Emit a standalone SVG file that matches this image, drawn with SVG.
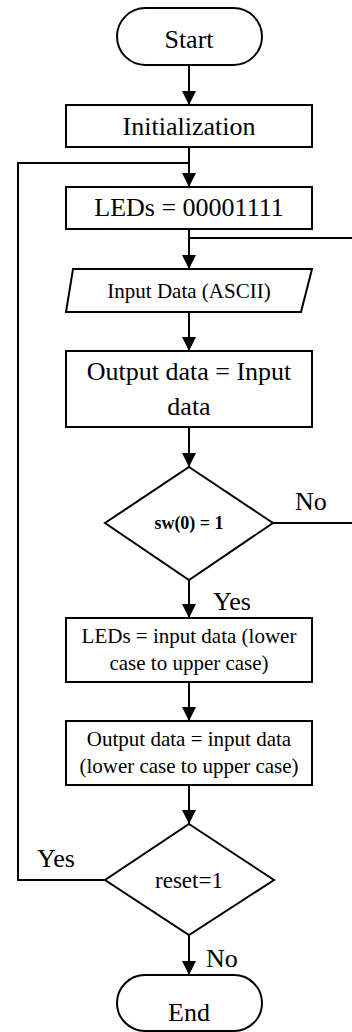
<svg xmlns="http://www.w3.org/2000/svg" width="352" height="1032" viewBox="0 0 352 1032">
<defs>
<style>
.shape{fill:#fff;stroke:#000;stroke-width:2}
.conn{fill:none;stroke:#000;stroke-width:2}
text{font-family:"Liberation Serif","Times New Roman",serif;fill:#000}
.c{text-anchor:middle}
.big{font-size:26px}
.mid{font-size:21px}
</style>
<marker id="arr" markerUnits="userSpaceOnUse" markerWidth="16" markerHeight="16" viewBox="0 0 16 16" refX="15" refY="8" orient="auto">
<path d="M1,1 L15,8 L1,15 Z" fill="#000"/>
</marker>
</defs>
<rect width="352" height="1032" fill="#fff"/>
<g id="connectors">
<line class="conn" x1="189" y1="65" x2="189" y2="105" marker-end="url(#arr)"/>
<line class="conn" x1="189" y1="147" x2="189" y2="187" marker-end="url(#arr)"/>
<polyline class="conn" points="105,880 18,880 18,163 189,163"/>
<line class="conn" x1="189" y1="229" x2="189" y2="269" marker-end="url(#arr)"/>
<polyline class="conn" points="273,523 354,523 354,238 189,238"/>
<line class="conn" x1="189" y1="312" x2="189" y2="351" marker-end="url(#arr)"/>
<line class="conn" x1="189" y1="427" x2="189" y2="467" marker-end="url(#arr)"/>
<line class="conn" x1="189" y1="580" x2="189" y2="618" marker-end="url(#arr)"/>
<line class="conn" x1="189" y1="682" x2="189" y2="721" marker-end="url(#arr)"/>
<line class="conn" x1="189" y1="785" x2="189" y2="824" marker-end="url(#arr)"/>
<line class="conn" x1="189" y1="935" x2="189" y2="975" marker-end="url(#arr)"/>
<text class="big" x="295" y="510">No</text>
<text class="big" x="213" y="610">Yes</text>
<text class="big" x="37" y="867">Yes</text>
<text class="big" x="206" y="967">No</text>
</g>
<g id="start">
<rect class="shape" x="117" y="8" width="145" height="57" rx="28.5"/>
<text class="c big" x="189" y="48">Start</text>
</g>
<g id="init">
<rect class="shape" x="66" y="105" width="246" height="42"/>
<text class="c big" x="189" y="135">Initialization</text>
</g>
<g id="leds-init">
<rect class="shape" x="66" y="187" width="246" height="42"/>
<text class="c big" x="189" y="216">LEDs = 00001111</text>
</g>
<g id="input">
<polygon class="shape" points="73,269 312,269 301,312 66,312"/>
<text class="c mid" x="189" y="298">Input Data (ASCII)</text>
</g>
<g id="output1">
<rect class="shape" x="66" y="351" width="246" height="76"/>
<text class="c big" x="189" y="380">Output data = Input</text>
<text class="c big" x="189" y="415">data</text>
</g>
<g id="sw">
<polygon class="shape" points="189,467 273,523 189,580 105,523"/>
<text class="c" x="189" y="529" style="font-size:18px;font-weight:bold">sw(0) = 1</text>
</g>
<g id="leds-upper">
<rect class="shape" x="66" y="618" width="246" height="64"/>
<text class="c mid" x="189" y="643">LEDs = input data (lower</text>
<text class="c mid" x="189" y="670">case to upper case)</text>
</g>
<g id="output2">
<rect class="shape" x="66" y="721" width="246" height="64"/>
<text class="c mid" x="189" y="746">Output data = input data</text>
<text class="c mid" x="189" y="773">(lower case to upper case)</text>
</g>
<g id="reset">
<polygon class="shape" points="189,824 274,880 189,935 105,880"/>
<text class="c" x="189" y="888" style="font-size:23px">reset=1</text>
</g>
<g id="end">
<rect class="shape" x="117" y="975" width="145" height="56" rx="28"/>
<text class="c big" x="189" y="1021">End</text>
</g>
</svg>
